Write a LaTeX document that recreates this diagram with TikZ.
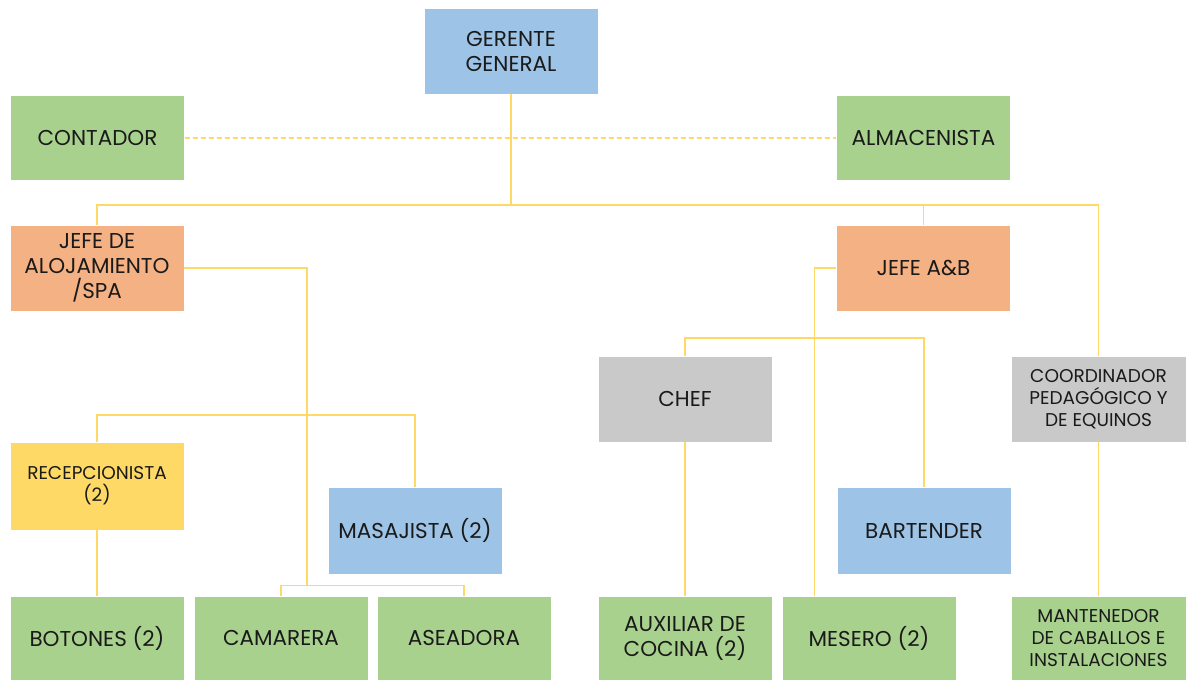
\documentclass[tikz,border=0pt]{standalone}
\usepackage{fontspec}
\setmainfont{Poppins}
\definecolor{cblue}{HTML}{9DC3E6}
\definecolor{cgreen}{HTML}{A9D18E}
\definecolor{corange}{HTML}{F4B183}
\definecolor{cyellow}{HTML}{FFD966}
\definecolor{cgrey}{HTML}{C9C9C9}
\definecolor{cline}{HTML}{FFD966}
\definecolor{ctext}{HTML}{1A1A1A}
\begin{document}
\begin{tikzpicture}[x=1pt,y=-1pt,
  box/.style={draw=white,line width=0.6pt,minimum width=174pt,minimum height=86pt,inner sep=0pt,align=center,text=ctext,font=\fontsize{21.5}{25}\selectfont},
  small/.style={font=\fontsize{18.5}{22}\selectfont},
  conn/.style={draw=cline,line width=1.4pt},
  dconn/.style={draw=cline,line width=2pt,dash pattern=on 5pt off 3pt}]
\useasboundingbox (0,0) rectangle (1186,680);
\coordinate (b1) at (511,205);
\coordinate (b2) at (307,585.5);
\coordinate (b3) at (307,415);
\coordinate (m1) at (814.5,268);
\coordinate (b4) at (814.5,338);
% nodes
\node[box,fill=cblue] (ger) at (511,51) {GERENTE\\GENERAL};
\node[box,fill=cgreen,minimum height=85pt] (cont) at (97.5,137.5) {CONTADOR};
\node[box,fill=cgreen,minimum height=85pt] (alm) at (923.5,137.5) {ALMACENISTA};
\node[box,fill=corange] (jal) at (97,268) {JEFE DE\\ALOJAMIENTO\\/SPA};
\node[box,fill=corange] (jab) at (923.5,268) {JEFE A\&B};
\node[box,fill=cgrey] (chef) at (685,399) {CHEF};
\node[box,small,fill=cgrey,minimum width=175pt] (coord) at (1098.5,399) {COORDINADOR\\PEDAGÓGICO Y\\DE EQUINOS};
\node[box,small,fill=cyellow,minimum height=88pt] (recep) at (97,486) {RECEPCIONISTA\\(2)};
\node[box,fill=cblue,minimum height=87pt] (masa) at (415,530.5) {MASAJISTA (2)};
\node[box,fill=cblue,minimum height=87pt] (bart) at (924,530.5) {BARTENDER};
\node[box,fill=cgreen,minimum height=84pt] (bot) at (97,638) {BOTONES (2)};
\node[box,fill=cgreen,minimum height=84pt] (cam) at (281,638) {CAMARERA};
\node[box,fill=cgreen,minimum height=84pt] (ase) at (464,638) {ASEADORA};
\node[box,fill=cgreen,minimum height=84pt] (aux) at (685,638) {AUXILIAR DE\\COCINA (2)};
\node[box,fill=cgreen,minimum height=84pt] (mes) at (869,638) {MESERO (2)};
\node[box,small,fill=cgreen,minimum width=175pt,minimum height=84pt] (mant) at (1098.5,638) {MANTENEDOR\\DE CABALLOS E\\INSTALACIONES};
% connectors
\draw[dconn] (cont.east) -- (alm.west);
\draw[conn] (ger.south) -- (b1);
\draw[conn] (b1) -| (jal.north);
\draw[conn] (b1) -| (jab.north);
\draw[conn] (b1) -| (coord.north);
\draw[conn] (jal.east) -| (b2);
\draw[conn] (b2) -| (cam.north);
\draw[conn] (b2) -| (ase.north);
\draw[conn] (b3) -| (recep.north);
\draw[conn] (b3) -| (masa.north);
\draw[conn] (recep.south) -- (bot.north);
\draw[conn] (jab.west) -- (m1) -- (m1 |- mes.north);
\draw[conn] (b4) -| (chef.north);
\draw[conn] (b4) -| (bart.north);
\draw[conn] (chef.south) -- (aux.north);
\draw[conn] (coord.south) -- (mant.north);
\end{tikzpicture}
\end{document}
